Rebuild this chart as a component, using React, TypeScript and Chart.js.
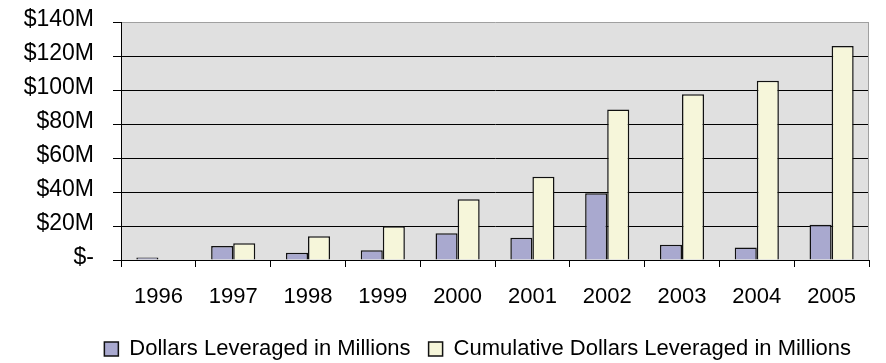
import React, { useEffect, useRef } from 'react';
import { Chart, registerables } from 'chart.js';

Chart.register(...registerables);

// Fiscal years shown on the category axis
const years = ['1996', '1997', '1998', '1999', '2000', '2001', '2002', '2003', '2004', '2005'];

// Dollars leveraged each year, in millions
const annualDollars = [1.5, 8.2, 4.3, 5.8, 15.7, 13.1, 39.2, 9.0, 7.4, 20.8];

// Running total of dollars leveraged, in millions (no bar for the first year)
const cumulativeDollars = [null, 9.8, 13.9, 19.8, 35.8, 49.0, 88.5, 97.5, 105.4, 125.9];

// Value axis range and step, in millions
const axisMax = 140;
const axisStep = 20;

const seriesNames = ['Dollars Leveraged in Millions', 'Cumulative Dollars Leveraged in Millions'];

const FONT = '"Liberation Sans", Arial, sans-serif';

// Grey plot background plus the light right-hand frame line
const plotFrame = {
  id: 'plotFrame',
  beforeDraw(chart: any) {
    const { ctx, chartArea } = chart;
    const { left, top, right, bottom } = chartArea;
    ctx.save();
    ctx.fillStyle = '#E0E0E0';
    ctx.fillRect(left, top, right - left, bottom - top);
    ctx.restore();
  },
  beforeDatasetsDraw(chart: any) {
    const { ctx, chartArea } = chart;
    const { top, right, bottom } = chartArea;
    const x = Math.round(right) - 0.5;
    ctx.save();
    ctx.strokeStyle = '#A0A0A0';
    ctx.lineWidth = 1;
    ctx.beginPath();
    ctx.moveTo(x, top);
    ctx.lineTo(x, bottom);
    ctx.stroke();
    ctx.restore();
  },
};

export default function App() {
  const canvasRef = useRef<HTMLCanvasElement | null>(null);

  useEffect(() => {
    const canvas = canvasRef.current;
    if (!canvas) return;

    const chart = new Chart(canvas, {
      type: 'bar',
      data: {
        labels: years,
        datasets: [
          {
            label: seriesNames[0],
            data: annualDollars,
            backgroundColor: '#A9A9CF',
            borderColor: '#111',
            borderWidth: 1.5,
            categoryPercentage: 0.59,
            barPercentage: 1.0,
          },
          {
            label: seriesNames[1],
            data: cumulativeDollars,
            backgroundColor: '#F6F6DA',
            borderColor: '#111',
            borderWidth: 1.5,
            categoryPercentage: 0.59,
            barPercentage: 1.0,
          },
        ],
      },
      options: {
        responsive: false,
        animation: false,
        layout: {
          padding: { left: 0, right: 17, top: 22, bottom: -7 },
        },
        plugins: {
          tooltip: { enabled: false },
          legend: {
            position: 'bottom',
            align: 'end',
            labels: {
              color: '#000',
              boxWidth: 14,
              boxHeight: 14,
              padding: 18,
              font: { family: FONT, size: 22 },
            },
          },
        },
        scales: {
          x: {
            grid: {
              display: true,
              drawOnChartArea: false,
              drawTicks: true,
              tickLength: 7,
              color: '#000',
              tickColor: '#000',
            },
            border: { display: true, color: '#000', width: 1 },
            ticks: {
              color: '#000',
              padding: 17,
              maxRotation: 0,
              font: { family: FONT, size: 22 },
            },
            afterFit(scale: any) {
              scale.height = 60;
            },
          },
          y: {
            min: 0,
            max: axisMax,
            grid: {
              color: (ctx: any) => (ctx.tick && ctx.tick.value === axisMax ? '#A0A0A0' : '#000'),
              tickColor: '#000',
              tickLength: 8,
              lineWidth: 1,
            },
            border: { display: true, color: '#000', width: 1 },
            ticks: {
              stepSize: axisStep,
              color: '#000',
              padding: 19,
              labelOffset: -2,
              font: { family: FONT, size: 23 },
              callback: (value: any) => (Number(value) === 0 ? '$-' : `$${value}M`),
            },
            afterFit(scale: any) {
              scale.width = 121;
              // the top and bottom labels fit inside the layout padding already
              scale.paddingTop = 0;
              scale.paddingBottom = 0;
            },
          },
        },
      },
      plugins: [plotFrame],
    });

    return () => {
      chart.destroy();
    };
  }, []);

  return (
    <div style={{ position: 'absolute', left: 0, top: 0, width: 886, height: 363, background: '#fff' }}>
      <canvas ref={canvasRef} width={886} height={363} />
    </div>
  );
}
